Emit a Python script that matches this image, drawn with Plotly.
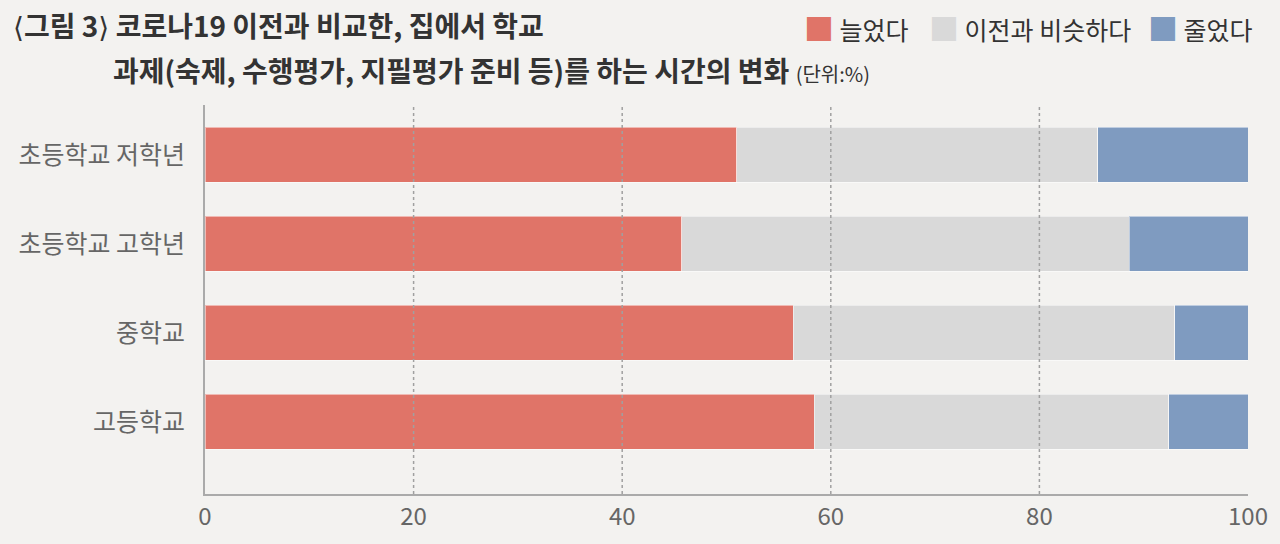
import plotly.graph_objects as go

# ----------------------------
# Data (%)
# ----------------------------
groups = ['초등학교 저학년', '초등학교 고학년', '중학교', '고등학교']
increased = [51.0, 45.7, 56.4, 58.4]
similar = [34.6, 42.9, 36.6, 34.0]
decreased = [14.4, 11.4, 7.0, 7.6]

series_names = ['늘었다', '이전과 비슷하다', '줄었다']
series_colors = ['#E07468', '#D9D9D9', '#7F9BC0']
x_ticks = [0, 20, 40, 60, 80, 100]

FONT = 'Noto Sans CJK KR'
BG = '#F3F2F0'

# ----------------------------
# Stacked horizontal bars
# ----------------------------
fig = go.Figure()
for name, vals, color in zip(series_names, [increased, similar, decreased], series_colors):
    fig.add_trace(go.Bar(
        y=groups,
        x=vals,
        name=name,
        orientation='h',
        width=0.62,
        marker=dict(color=color, line=dict(color='rgba(255,255,255,0.5)', width=1)),
        showlegend=False,
    ))

fig.update_layout(
    barmode='stack',
    width=1280,
    height=544,
    margin=dict(l=205, r=30, t=105, b=50),
    paper_bgcolor=BG,
    plot_bgcolor=BG,
    font=dict(family=FONT, color='#666666'),
)

# ----------------------------
# Title (two lines) and legend row
# ----------------------------
fig.add_annotation(
    text='<b><span style="font-family:DejaVu Sans;font-weight:normal">⟨</span>그림 3'
         '<span style="font-family:DejaVu Sans;font-weight:normal">⟩</span> 코로나19 이전과 비교한, 집에서 학교</b>',
    xref='paper', yref='paper', x=-0.186, y=1.205,
    xanchor='left', yanchor='middle', showarrow=False,
    font=dict(size=28, color='#333333'),
)
fig.add_annotation(
    text='<b>과제(숙제, 수행평가, 지필평가 준비 등)를 하는 시간의 변화</b> '
         '<span style="font-size:20px">(단위:%)</span>',
    xref='paper', yref='paper', x=-0.09, y=1.09,
    xanchor='left', yanchor='middle', showarrow=False,
    font=dict(size=28, color='#333333'),
)

legend_x = [0.5722, 0.6919, 0.9024]
for name, color, lx in zip(series_names, series_colors, legend_x):
    fig.add_annotation(
        text=f'<span style="color:{color};font-size:30px">■</span> {name}',
        xref='paper', yref='paper', x=lx, y=1.2,
        xanchor='left', yanchor='middle', showarrow=False,
        font=dict(size=25, color='#333333'),
    )

# dotted gridlines drawn over the bars
for t in x_ticks[1:-1]:
    fig.add_shape(
        type='line', xref='x', yref='paper',
        x0=t, x1=t, y0=0, y1=1,
        line=dict(color='#A0A0A0', width=1.5, dash='dot'),
        layer='above',
    )

fig.update_xaxes(
    range=[0, 100],
    tickvals=x_ticks,
    ticks='',
    tickfont=dict(size=24, color='#666666'),
    showgrid=False,
    zeroline=False,
    showline=True,
    linecolor='#AAAAAA',
    linewidth=2,
)
fig.update_yaxes(
    categoryorder='array',
    categoryarray=groups,
    autorange=False,
    range=[3.81, -0.56],
    ticks='',
    ticklabelstandoff=13,
    tickfont=dict(size=25, color='#666666'),
    showgrid=False,
    showline=True,
    linecolor='#AAAAAA',
    linewidth=2,
)

fig.write_html(
    'out.html',
    config={'displayModeBar': False},
    post_script=f"document.body.style.margin='0';document.body.style.background='{BG}';",
)
